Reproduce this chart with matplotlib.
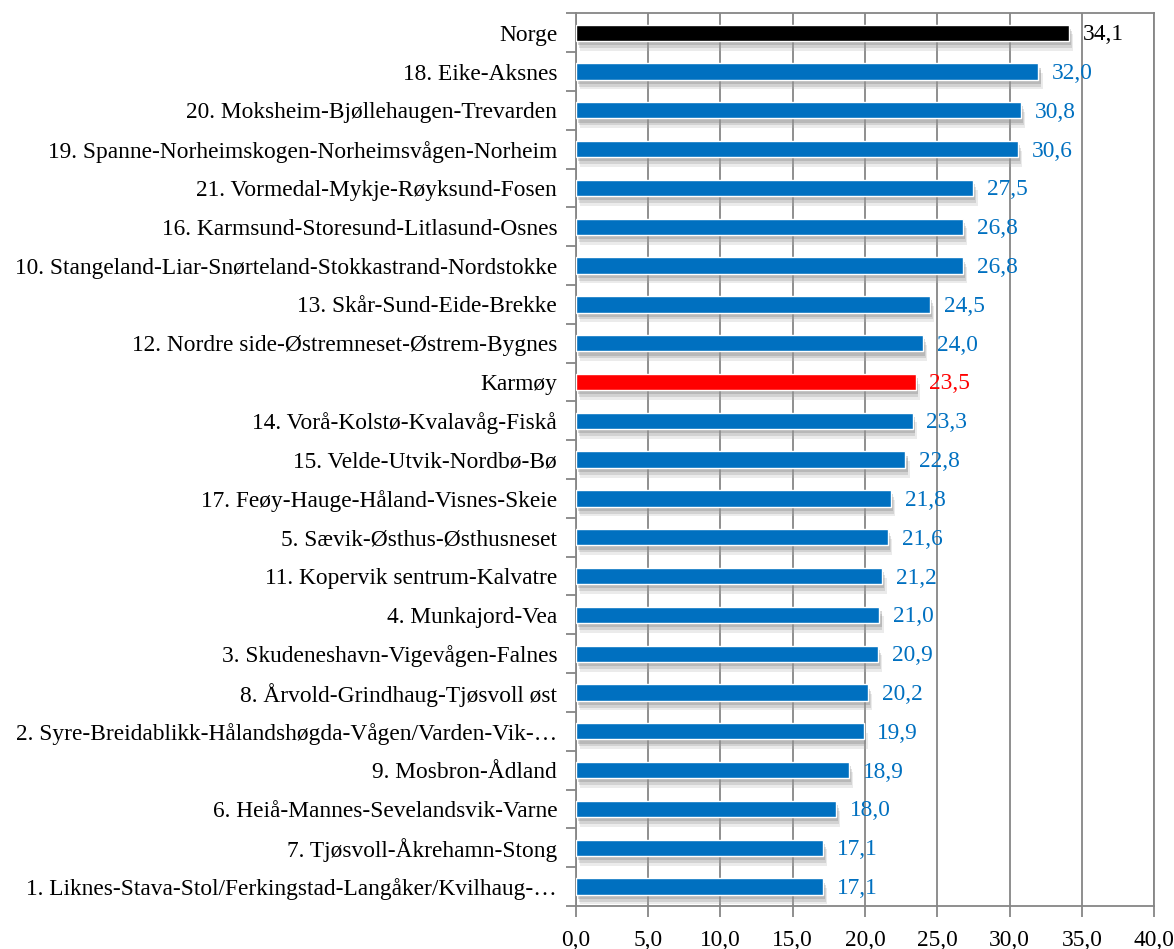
import matplotlib
matplotlib.use("Agg")
import matplotlib.pyplot as plt
import matplotlib.patheffects as pe

categories = [
    "Norge",
    "18. Eike-Aksnes",
    "20. Moksheim-Bjøllehaugen-Trevarden",
    "19. Spanne-Norheimskogen-Norheimsvågen-Norheim",
    "21. Vormedal-Mykje-Røyksund-Fosen",
    "16. Karmsund-Storesund-Litlasund-Osnes",
    "10. Stangeland-Liar-Snørteland-Stokkastrand-Nordstokke",
    "13. Skår-Sund-Eide-Brekke",
    "12. Nordre side-Østremneset-Østrem-Bygnes",
    "Karmøy",
    "14. Vorå-Kolstø-Kvalavåg-Fiskå",
    "15. Velde-Utvik-Nordbø-Bø",
    "17. Feøy-Hauge-Håland-Visnes-Skeie",
    "5. Sævik-Østhus-Østhusneset",
    "11. Kopervik sentrum-Kalvatre",
    "4. Munkajord-Vea",
    "3. Skudeneshavn-Vigevågen-Falnes",
    "8. Årvold-Grindhaug-Tjøsvoll øst",
    "2. Syre-Breidablikk-Hålandshøgda-Vågen/Varden-Vik-…",
    "9. Mosbron-Ådland",
    "6. Heiå-Mannes-Sevelandsvik-Varne",
    "7. Tjøsvoll-Åkrehamn-Stong",
    "1. Liknes-Stava-Stol/Ferkingstad-Langåker/Kvilhaug-…",
]
values = [34.1, 32.0, 30.8, 30.6, 27.5, 26.8, 26.8, 24.5, 24.0, 23.5, 23.3,
          22.8, 21.8, 21.6, 21.2, 21.0, 20.9, 20.2, 19.9, 18.9, 18.0, 17.1, 17.1]
xticks = [0, 5, 10, 15, 20, 25, 30, 35, 40]

BLUE = "#0070C0"
colors = []
for c in categories:
    if c == "Norge":
        colors.append("black")
    elif c == "Karmøy":
        colors.append("#FF0000")
    else:
        colors.append(BLUE)

plt.rcParams['font.family'] = ['Liberation Serif', 'DejaVu Serif']
FS = 16.8

fig = plt.figure(figsize=(11.74, 9.49), dpi=100)
ax = fig.add_axes([0.4906, 0.0453, 0.983 - 0.4906, 0.986 - 0.0453])

n = len(categories)
ypos = list(range(n))
bars = ax.barh(ypos, values, height=0.42, color=colors, edgecolor="white",
               linewidth=1.0, zorder=3)
for b in bars:
    b.set_path_effects([
        pe.SimplePatchShadow(offset=(3, -7), shadow_rgbFace="#b0b0b0", alpha=0.25),
        pe.SimplePatchShadow(offset=(2, -5), shadow_rgbFace="#999999", alpha=0.3),
        pe.SimplePatchShadow(offset=(1.5, -3), shadow_rgbFace="#888888", alpha=0.35),
        pe.Normal()])

for y, v, col in zip(ypos, values, colors):
    ax.text(v + 0.95, y + 0.05, f"{v:.1f}".replace(".", ","), color=col,
            va="center", ha="left", fontsize=FS, zorder=4)

ax.set_ylim(n - 0.5, -0.5)
ax.set_xlim(0, 40)
ax.set_xticks(xticks)
ax.set_xticklabels([f"{t:.1f}".replace(".", ",") for t in xticks], fontsize=FS)

ax.set_yticks(ypos)
ax.set_yticklabels(categories, fontsize=FS)
ax.tick_params(axis="y", which="major", length=0, pad=13.5)
ax.set_yticks([i - 0.5 for i in range(n + 1)], minor=True)
ax.tick_params(axis="y", which="minor", length=7, width=1.3, color="#868686")
ax.tick_params(axis="x", length=8, width=1.3, color="#868686", pad=9)

ax.grid(axis="x", color="#868686", linewidth=1.3, zorder=0)
ax.set_axisbelow(True)
for s in ax.spines.values():
    s.set_color("#868686")
    s.set_linewidth(1.3)

fig.savefig("out.png", dpi=100)
